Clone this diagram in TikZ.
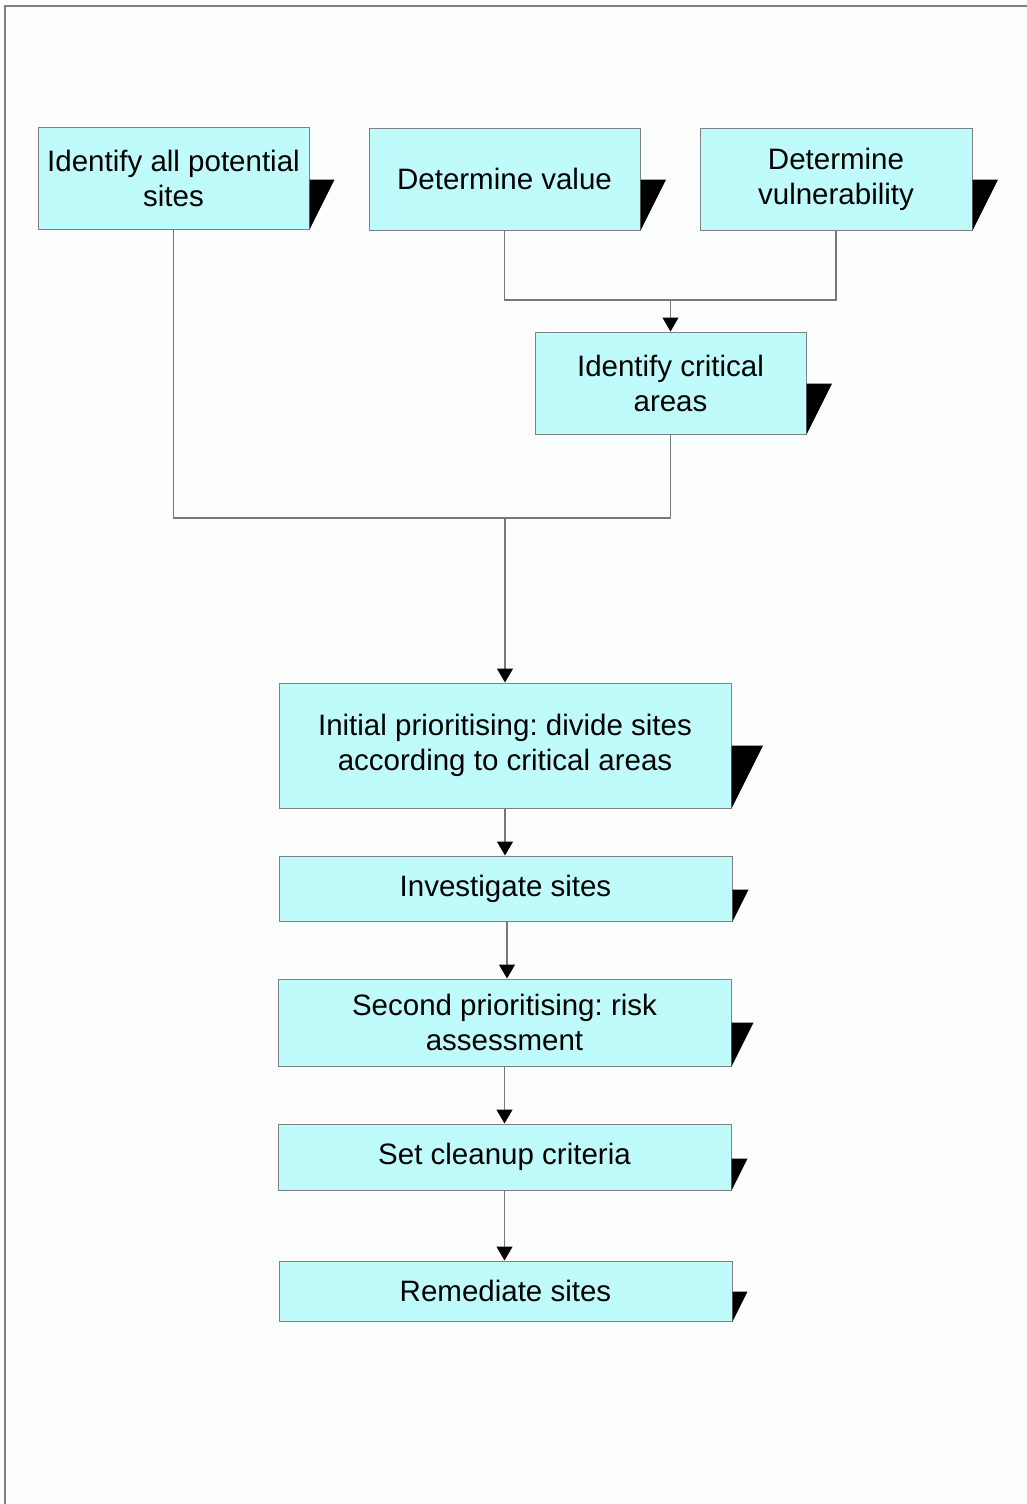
\documentclass[tikz,border=0pt]{standalone}
\usepackage{fontspec}
\setmainfont{Liberation Sans}
\usetikzlibrary{arrows.meta}
\definecolor{boxfill}{RGB}{192,251,251}
\definecolor{boxline}{RGB}{128,128,128}
\definecolor{wireline}{RGB}{120,120,120}
\definecolor{page}{RGB}{252,254,254}
\tikzset{
  stepbox/.style={draw=boxline, line width=1pt, fill=boxfill, rectangle,
    inner sep=0pt, align=center, text=black,
    font=\frenchspacing\fontsize{29.5}{35}\selectfont},
  wire/.style={draw=wireline, line width=1.2pt},
  arr/.style={wire, -{Triangle[width=16pt,length=14pt,color=black,fill=black]}},
}
% black wedge at the lower right of a box: height h, width h/2
\newcommand{\wedgeat}[2]{%
  \fill[black] (#1.south east) -- ([yshift=#2]#1.south east)
    -- ([xshift=#2/2, yshift=#2]#1.south east) -- cycle;}
\begin{document}
\begin{tikzpicture}[x=1pt, y=-1pt]
\useasboundingbox (0,0) rectangle (1027,1504);
\fill[page] (0,0) rectangle (1027,1504);
\draw[boxline, line width=1.5pt] (1027,6) -- (5,6) -- (5,1504);

% boxes
\node[stepbox, minimum width=271pt, minimum height=102pt] (all) at (173.5,178) {Identify all potential\\sites};
\node[stepbox, minimum width=271pt, minimum height=102pt] (val) at (504.5,179) {Determine value};
\node[stepbox, minimum width=272pt, minimum height=102pt] (vul) at (836,179) {Determine\\vulnerability};
\node[stepbox, minimum width=271pt, minimum height=102pt] (crit) at (670.5,383) {Identify critical\\areas};
\node[stepbox, minimum width=452pt, minimum height=125pt] (init) at (505,745.5) {Initial prioritising: divide sites\\according to critical areas};
\node[stepbox, minimum width=453pt, minimum height=65pt] (inv) at (505.5,888.5) {Investigate sites};
\node[stepbox, minimum width=453pt, minimum height=87pt] (sec) at (504.5,1022.5) {Second prioritising: risk\\assessment};
\node[stepbox, minimum width=453pt, minimum height=66pt] (crt) at (504.5,1157) {Set cleanup criteria};
\node[stepbox, minimum width=453pt, minimum height=60pt] (rem) at (505.5,1291) {Remediate sites};

% wedges
\wedgeat{all}{50pt}
\wedgeat{val}{51pt}
\wedgeat{vul}{51pt}
\wedgeat{crit}{51pt}
\wedgeat{init}{63pt}
\wedgeat{inv}{32pt}
\wedgeat{sec}{44pt}
\wedgeat{crt}{32pt}
\wedgeat{rem}{30pt}

% junctions
\coordinate (j1) at (670.5,300);
\coordinate (j2) at (505,518);

% connectors
\draw[wire] (val.south) |- (j1) -| (vul.south);
\draw[arr] (j1) -- (crit.north);
\draw[wire] (all.south) |- (j2) -| (crit.south);
\draw[arr] (j2) -- (init.north);
\draw[arr] (init.south) -- (inv.north -| init.south);
\draw[arr] ([xshift=1.5pt]inv.south) -- ([xshift=1.5pt]inv.south |- sec.north);
\draw[arr] (sec.south) -- (crt.north);
\draw[arr] (crt.south) -- (rem.north -| crt.south);
\end{tikzpicture}
\end{document}
